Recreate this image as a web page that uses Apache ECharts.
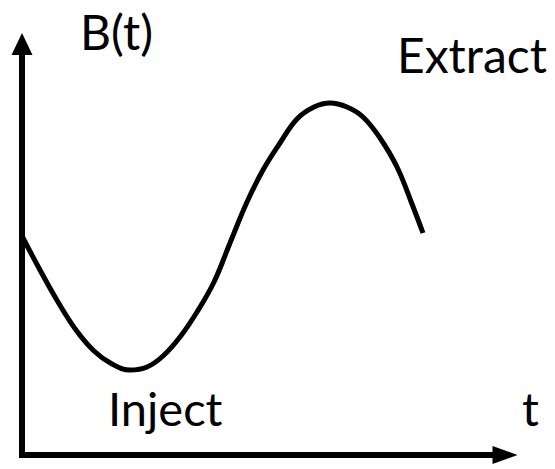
<!DOCTYPE html>
<html>
<head>
<meta charset="utf-8">
<script src="https://cdn.jsdelivr.net/npm/echarts@6/dist/echarts.min.js"></script>
<style>
  html, body { margin: 0; padding: 0; background: #fff; }
  #chart { width: 555px; height: 469px; }
</style>
</head>
<body>
<div id="chart"></div>
<script>
// Time along the cycle (arbitrary units) and field B(t)
const tValues = [0, 18, 36, 54, 72, 90, 108, 125, 141, 158, 175, 192, 208, 225, 241, 258, 275, 292, 308, 325, 341, 358, 375, 390, 401];
const bValues = [219, 185, 153, 125, 104, 91, 85, 88, 99, 118, 143, 173, 212, 253, 285, 312, 336, 348, 352, 348, 338, 317, 288, 251, 222];

const labelFont = 'Lato, "Open Sans", sans-serif';

// Build [t, B] pairs
const curve = [];
for (let i = 0; i < tValues.length; i++) {
  curve.push([tValues[i], bValues[i]]);
}

const chart = echarts.init(document.getElementById('chart'), null, { renderer: 'svg' });

const axisLine = {
  show: true,
  symbol: ['none', 'triangle'],
  lineStyle: { color: '#000', width: 6, cap: 'square' }
};

const option = {
  animation: false,
  backgroundColor: '#fff',
  grid: {
    left: 22,
    right: 50,
    top: 44,
    bottom: 14
  },
  xAxis: {
    type: 'value',
    min: 0,
    max: 483,
    axisLine: Object.assign({}, axisLine, { symbolSize: [18, 25] }),
    axisTick: { show: false },
    axisLabel: { show: false },
    splitLine: { show: false }
  },
  yAxis: {
    type: 'value',
    min: 0,
    max: 411,
    axisLine: Object.assign({}, axisLine, { symbolSize: [21, 22] }),
    axisTick: { show: false },
    axisLabel: { show: false },
    splitLine: { show: false }
  },
  series: [{
    type: 'line',
    data: curve,
    smooth: 0.4,
    showSymbol: false,
    lineStyle: { color: '#000', width: 5 }
  }],
  graphic: [
    { type: 'text', left: 80, top: 7, style: { text: 'B(t)', font: '48px ' + labelFont, fill: '#000' } },
    { type: 'text', left: 397, top: 30, style: { text: 'Extract', font: '48px ' + labelFont, fill: '#000' } },
    { type: 'text', left: 108, top: 384, style: { text: 'Inject', font: '47px ' + labelFont, fill: '#000' } },
    { type: 'text', left: 522, top: 384, style: { text: 't', font: '47px ' + labelFont, fill: '#000' } }
  ]
};

chart.setOption(option);
</script>
</body>
</html>
